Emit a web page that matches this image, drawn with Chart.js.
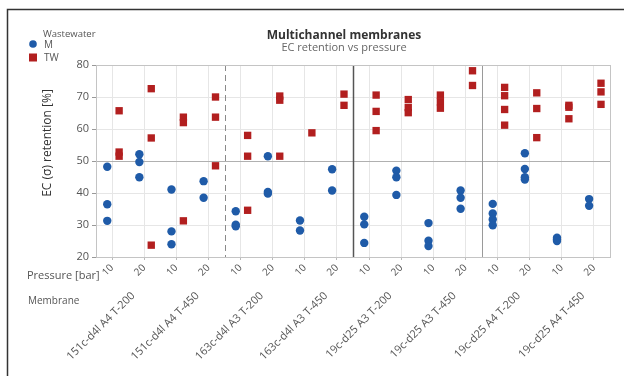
<!DOCTYPE html>
<html>
<head>
<meta charset="utf-8">
<script src="https://cdn.jsdelivr.net/npm/chart.js@4/dist/chart.umd.min.js"></script>
<style>
  html, body { margin: 0; padding: 0; background: #fff; }
  #wrap { width: 624px; height: 376px; position: relative; }
</style>
</head>
<body>
<div id="wrap"><canvas id="c" width="624" height="376"></canvas></div>
<script>
// Membranes (two pressure levels each) and the pressure levels in bar
const membranes = [
  "151c-d4l A4 T-200", "151c-d4l A4 T-450",
  "163c-d4l A3 T-200", "163c-d4l A3 T-450",
  "19c-d25 A3 T-200", "19c-d25 A3 T-450",
  "19c-d25 A4 T-200", "19c-d25 A4 T-450"
];
const pressures = ["10", "20"];
const yTicks = [20, 30, 40, 50, 60, 70, 80];

// EC retention [%] per membrane/pressure slot, wastewater M
const retentionM = [
  [48.2, 36.5, 31.3], [52.1, 49.7, 44.9],
  [41.1, 28.0, 24.0], [43.7, 38.5],
  [34.3, 30.1, 29.6], [51.5, 40.3, 39.8],
  [31.4, 28.3], [47.4, 40.8],
  [32.6, 30.2, 24.4], [47.0, 44.9, 39.4],
  [30.6, 25.1, 23.4], [40.8, 38.5, 35.1],
  [36.6, 33.6, 31.7, 29.9], [52.4, 47.5, 44.9, 44.2],
  [26.0, 25.5, 25.0], [38.1, 36.0]
];
// EC retention [%] per membrane/pressure slot, wastewater TW
const retentionTW = [
  [65.7, 52.8, 51.5], [72.6, 57.2, 23.7],
  [63.7, 62.0, 31.3], [70.0, 63.7, 48.5],
  [58.0, 51.5, 34.6], [70.3, 69.0, 51.5],
  [58.8], [70.9, 67.4],
  [70.6, 65.5, 59.5], [69.2, 66.7, 65.1],
  [70.6, 68.5, 66.5], [78.2, 73.6],
  [73.0, 70.4, 66.1, 61.2], [71.3, 66.4, 57.3],
  [67.4, 66.8, 63.2], [74.3, 71.6, 67.7]
];

const slotCount = membranes.length * pressures.length;
const dodgeM = -0.15, dodgeTW = 0.22;

function toPoints(series, dodge) {
  const pts = [];
  series.forEach((vals, slot) => vals.forEach(v => pts.push({ x: slot + 0.5 + dodge, y: v })));
  return pts;
}

const colM = '#1f5ba8', colTW = '#b21f1f';
const FONT = '"Open Sans", "Noto Sans", sans-serif';

const decor = {
  id: 'decor',
  beforeDatasetsDraw(chart) {
    const { ctx, chartArea: a, scales: { x } } = chart;
    ctx.save();
    // group separators
    const seps = [
      { v: 4, color: '#8a8a8a', dash: [6, 4], w: 1 },
      { v: 8, color: '#555', dash: [], w: 1.5 },
      { v: 12, color: '#9a9a9a', dash: [], w: 1 }
    ];
    seps.forEach(s => {
      const px = Math.round(x.getPixelForValue(s.v)) + 0.5;
      ctx.beginPath();
      ctx.setLineDash(s.dash);
      ctx.strokeStyle = s.color;
      ctx.lineWidth = s.w;
      ctx.moveTo(px, a.top);
      ctx.lineTo(px, a.bottom);
      ctx.stroke();
    });
    ctx.setLineDash([]);
    // plot frame
    ctx.strokeStyle = '#c4c4c4';
    ctx.lineWidth = 1;
    ctx.strokeRect(Math.round(a.left) + 0.5, Math.round(a.top) + 0.5,
                   Math.round(a.right - a.left), Math.round(a.bottom - a.top));
    ctx.restore();
  },
  afterDraw(chart) {
    const { ctx, scales: { x } } = chart;
    ctx.save();
    // outer frame
    ctx.strokeStyle = '#333';
    ctx.lineWidth = 1.5;
    ctx.beginPath();
    ctx.moveTo(7.5, 376);
    ctx.lineTo(7.5, 9.5);
    ctx.lineTo(624, 9.5);
    ctx.stroke();

    // title + subtitle
    ctx.textAlign = 'center';
    ctx.textBaseline = 'alphabetic';
    ctx.fillStyle = '#333';
    ctx.font = 'bold 12px ' + FONT;
    ctx.fillText('Multichannel membranes', 344, 39);
    ctx.fillStyle = '#666';
    ctx.font = '11px ' + FONT;
    ctx.fillText('EC retention vs pressure', 344, 51);

    // legend
    ctx.textAlign = 'left';
    ctx.fillStyle = '#555';
    ctx.font = '9.5px ' + FONT;
    ctx.fillText('Wastewater', 43, 37);
    ctx.fillStyle = colM;
    ctx.beginPath();
    ctx.arc(33, 44, 3.8, 0, Math.PI * 2);
    ctx.fill();
    ctx.fillStyle = colTW;
    ctx.fillRect(29, 53.5, 8, 8);
    ctx.fillStyle = '#555';
    ctx.font = '10px ' + FONT;
    ctx.fillText('M', 44, 48);
    ctx.fillText('TW', 44, 61);

    // axis titles
    ctx.fillStyle = '#555';
    ctx.font = '11px ' + FONT;
    ctx.fillText('Pressure [bar]', 27, 279);
    ctx.font = '10px ' + FONT;
    ctx.fillText('Membrane', 28, 304);

    ctx.save();
    ctx.translate(51, 143);
    ctx.rotate(-Math.PI / 2);
    ctx.textAlign = 'center';
    ctx.fillStyle = '#333';
    ctx.font = '12px ' + FONT;
    ctx.fillText('EC (\u03C3) retention [%]', 0, 0);
    ctx.restore();

    // membrane labels, one per pair of pressure slots
    ctx.fillStyle = '#555';
    ctx.font = '11px ' + FONT;
    ctx.textAlign = 'right';
    ctx.textBaseline = 'middle';
    membranes.forEach((m, i) => {
      const cx = x.getPixelForValue(i * pressures.length + 1) + 5;
      ctx.save();
      ctx.translate(cx, 294);
      ctx.rotate(-Math.PI / 4);
      ctx.fillText(m, 0, 0);
      ctx.restore();
    });
    ctx.restore();
  }
};

new Chart(document.getElementById('c'), {
  type: 'scatter',
  data: {
    datasets: [
      { label: 'M', data: toPoints(retentionM, dodgeM), pointStyle: 'circle',
        pointRadius: 4.2, backgroundColor: colM, borderColor: colM, borderWidth: 0 },
      { label: 'TW', data: toPoints(retentionTW, dodgeTW), pointStyle: 'rect',
        pointRadius: 5.2, backgroundColor: colTW, borderColor: colTW, borderWidth: 0 }
    ]
  },
  options: {
    responsive: false,
    animation: false,
    events: [],
    layout: { padding: { top: 65, right: 14, left: 0, bottom: 0 } },
    plugins: { legend: { display: false }, tooltip: { enabled: false } },
    scales: {
      x: {
        type: 'linear',
        min: 0, max: slotCount,
        afterBuildTicks(scale) {
          scale.ticks = Array.from({ length: slotCount }, (_, i) => ({ value: i + 0.5 }));
        },
        afterFit(scale) { scale.height = 119; },
        ticks: {
          autoSkip: false, minRotation: 45, maxRotation: 45,
          color: '#555', font: { family: FONT, size: 10 }, padding: 2,
          callback: (v, i) => pressures[i % pressures.length]
        },
        grid: { color: '#e6e6e6', tickLength: 3, tickColor: '#bbb' },
        border: { color: '#bbb' }
      },
      y: {
        min: 20, max: 80,
        afterBuildTicks(scale) { scale.ticks = yTicks.map(v => ({ value: v })); },
        afterFit(scale) { scale.width = 96; },
        ticks: { color: '#555', font: { family: FONT, size: 11 }, padding: 3 },
        grid: {
          color: ctx => (ctx.tick && ctx.tick.value === 50) ? '#b0b0b0' : '#e6e6e6',
          tickLength: 4, tickColor: '#999'
        },
        border: { color: '#aaa' }
      }
    }
  },
  plugins: [decor]
});
</script>
</body>
</html>
